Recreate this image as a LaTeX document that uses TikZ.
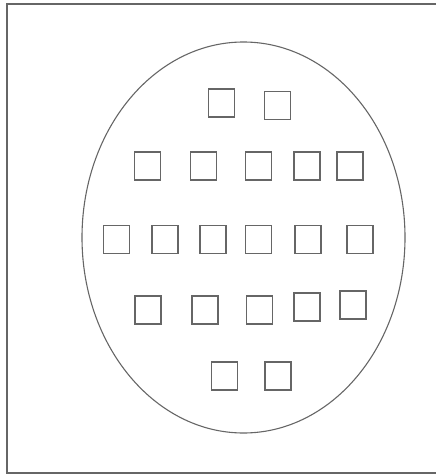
\documentclass[tikz,border=0pt]{standalone}
\usetikzlibrary{calc}

\begin{document}
\begin{tikzpicture}[x=1pt,y=-1pt,line width=1.1pt,color=black!60,
  cell/.style={draw,minimum width=26pt,minimum height=28pt,inner sep=0pt}]
  \useasboundingbox (0,0) rectangle (436,476);
  % frame, cut at the right
  \draw (436,4)--(7,4)--(7,473)--(436,473);
  % outer oval
  \coordinate (O) at (243.5,237.5);
  \draw (O) ellipse[x radius=161.5,y radius=195.5];
  % rows of squares
  \foreach \x/\y [count=\i] in {221.5/103,277.5/105.5}
    \node[cell] (a\i) at (\x,\y){};
  \foreach \x [count=\i] in {147.5,203.5,258.5,307,350}
    \node[cell] (b\i) at (\x,166){};
  \foreach \x [count=\i] in {116.5,165,213,258.5,308,360}
    \node[cell] (c\i) at (\x,239.5){};
  \foreach \x/\y [count=\i] in {148/310,205/310,259.5/310,307/307,353/305}
    \node[cell] (d\i) at (\x,\y){};
  \foreach \x [count=\i] in {224.5,278}
    \node[cell] (e\i) at (\x,376){};
\end{tikzpicture}
\end{document}
